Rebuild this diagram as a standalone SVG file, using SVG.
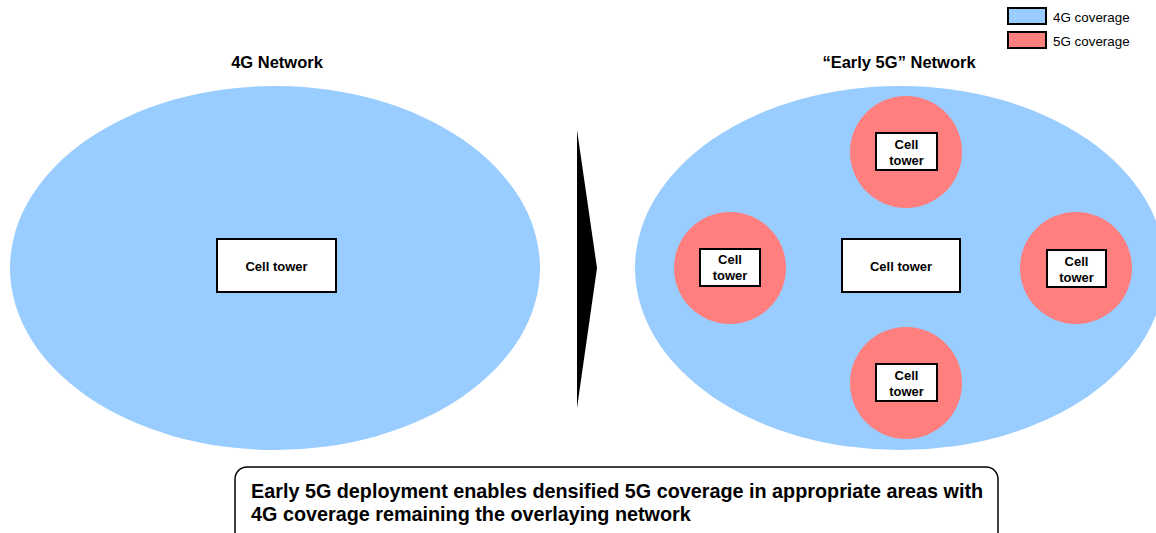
<svg xmlns="http://www.w3.org/2000/svg" width="1156" height="533" viewBox="0 0 1156 533">
<style>
text{font-family:"Liberation Sans",Arial,sans-serif;fill:#000}
.cov4{fill:#99CCFF}
.cov5{fill:#FF7F7F}
.box{fill:#fff;stroke:#000;stroke-width:2}
.lbl{font-size:13px;font-weight:bold;text-anchor:middle}
.title{font-size:16.5px;font-weight:bold;text-anchor:middle}
.leg{font-size:13.4px}
</style>
<rect width="1156" height="533" fill="#fff"/>
<g id="legend">
<rect x="1008" y="8" width="38" height="16" class="cov4" stroke="#000" stroke-width="2"/>
<text x="1053" y="22" class="leg">4G coverage</text>
<rect x="1008" y="32" width="38" height="16" class="cov5" stroke="#000" stroke-width="2"/>
<text x="1053" y="46" class="leg">5G coverage</text>
</g>
<text x="277" y="68" class="title">4G Network</text>
<text x="899" y="68" class="title">“Early 5G” Network</text>
<g id="net4g">
<ellipse cx="275" cy="268" rx="265" ry="182" class="cov4"/>
</g>
<g id="net5g">
<ellipse cx="900" cy="268" rx="265" ry="182" class="cov4"/>
</g>
<g id="cov5-left"><circle cx="730" cy="268" r="56" class="cov5"/></g>
<g id="cov5-top"><circle cx="906" cy="152" r="56" class="cov5"/></g>
<g id="cov5-right"><circle cx="1076" cy="268" r="56" class="cov5"/></g>
<g id="cov5-bottom"><circle cx="906" cy="383" r="56" class="cov5"/></g>
<g id="tower4g">
<rect x="217" y="239" width="119" height="53" class="box"/>
<text x="276.5" y="271" class="lbl">Cell tower</text>
</g>
<g id="tower5g-center">
<rect x="842" y="239" width="118" height="53" class="box"/>
<text x="901" y="271" class="lbl">Cell tower</text>
</g>
<g id="tower-left">
<rect x="700" y="249" width="60" height="37" class="box"/>
<text x="730" y="264" class="lbl">Cell</text>
<text x="730" y="280" class="lbl">tower</text>
</g>
<g id="tower-top">
<rect x="876" y="133" width="61" height="37" class="box"/>
<text x="906.5" y="149" class="lbl">Cell</text>
<text x="906.5" y="165" class="lbl">tower</text>
</g>
<g id="tower-right">
<rect x="1047" y="250" width="59" height="37" class="box"/>
<text x="1076.5" y="266" class="lbl">Cell</text>
<text x="1076.5" y="282" class="lbl">tower</text>
</g>
<g id="tower-bottom">
<rect x="876" y="364" width="61" height="37" class="box"/>
<text x="906.5" y="380" class="lbl">Cell</text>
<text x="906.5" y="396" class="lbl">tower</text>
</g>
<g id="connectors">
<polygon points="577,130 597,268 577,408" fill="#000"/>
</g>
<g id="caption">
<rect x="235" y="467" width="763" height="80" rx="12" ry="12" fill="#fff" stroke="#000" stroke-width="1.5"/>
<text x="251" y="498" font-size="19.8" font-weight="bold">Early 5G deployment enables densified 5G coverage in appropriate areas with</text>
<text x="251" y="521" font-size="19.8" font-weight="bold">4G coverage remaining the overlaying network</text>
</g>
</svg>
